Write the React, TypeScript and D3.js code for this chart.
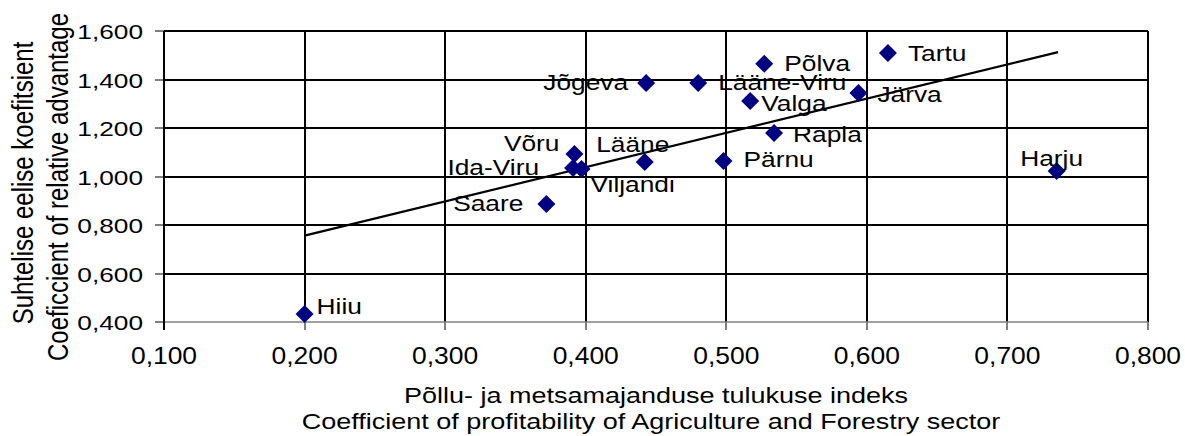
import React, { useRef, useEffect } from "react";
import * as d3 from "d3";

// county names and their two coefficients
const regions = ["Hiiu", "Saare", "Võru", "Ida-Viru", "Viljandi", "Lääne", "Pärnu", "Jõgeva", "Lääne-Viru", "Põlva", "Valga", "Rapla", "Järva", "Tartu", "Harju"];
const profitability = [0.200, 0.372, 0.392, 0.391, 0.397, 0.442, 0.498, 0.443, 0.480, 0.527, 0.517, 0.534, 0.594, 0.615, 0.735];
const advantage = [0.433, 0.887, 1.093, 1.035, 1.031, 1.060, 1.064, 1.386, 1.386, 1.465, 1.311, 1.179, 1.344, 1.509, 1.023];

// linear trendline end points
const trendX = [0.200, 0.736];
const trendY = [0.756, 1.513];

const xTicks = [0.1, 0.2, 0.3, 0.4, 0.5, 0.6, 0.7, 0.8];
const yTicks = [0.4, 0.6, 0.8, 1.0, 1.2, 1.4, 1.6];

const xTitle = ["Põllu- ja metsamajanduse tulukuse indeks", "Coefficient of profitability of Agriculture and Forestry sector"];
const yTitle = ["Suhtelise eelise koefitsient", "Coeficcient of relative advantage"];

// label placement per point: anchor, dx, dy (px)
const labelPlace = [
	["start", 12, 0], ["end", -23, 7], ["end", -15, -3], ["end", -34, 7], ["start", 9, 23],
	["middle", -12, -10], ["start", 20, 6], ["end", -18, 7], ["start", 20, 7], ["start", 20, 7],
	["start", 11, 10], ["start", 19, 9], ["start", 19, 9], ["start", 20, 8], ["middle", -5, -5]
];

const FONT = "'Liberation Sans', Arial, sans-serif";

const App = () => {
	const chartRef = useRef(null);

	useEffect(() => {
		const width = 1185;
		const height = 436;
		const margin = { top: 31, right: 37, bottom: 114, left: 164 };

		const svg = d3.select(chartRef.current);
		svg.selectAll("*").remove();
		svg.attr("width", width).attr("height", height);

		const xScale = d3.scaleLinear()
			.domain([0.1, 0.8])
			.range([margin.left, width - margin.right]);

		const yScale = d3.scaleLinear()
			.domain([0.4, 1.6])
			.range([height - margin.bottom, margin.top]);

		const fmt = (d) => d3.format(".3f")(d).replace(".", ",");

		const x0 = xScale(0.1), x1 = xScale(0.8);
		const y0 = yScale(0.4), y1 = yScale(1.6);

		// horizontal gridlines
		svg.append("g")
			.selectAll("line")
			.data(yTicks.filter(d => d > 0.4))
			.enter()
			.append("line")
			.attr("x1", x0)
			.attr("x2", x1)
			.attr("y1", d => Math.round(yScale(d)))
			.attr("y2", d => Math.round(yScale(d)))
			.attr("stroke", "#000")
			.attr("stroke-width", 2);

		// vertical gridlines
		svg.append("g")
			.selectAll("line")
			.data(xTicks.filter(d => d > 0.1))
			.enter()
			.append("line")
			.attr("x1", d => Math.round(xScale(d)))
			.attr("x2", d => Math.round(xScale(d)))
			.attr("y1", y1)
			.attr("y2", y0)
			.attr("stroke", "#000")
			.attr("stroke-width", 2);

		// y ticks
		svg.append("g")
			.selectAll("line")
			.data(yTicks)
			.enter()
			.append("line")
			.attr("x1", x0 - 9)
			.attr("x2", x0)
			.attr("y1", d => Math.round(yScale(d)))
			.attr("y2", d => Math.round(yScale(d)))
			.attr("stroke", "#555")
			.attr("stroke-width", 1.5);

		// x ticks
		svg.append("g")
			.selectAll("line")
			.data(xTicks)
			.enter()
			.append("line")
			.attr("x1", d => Math.round(xScale(d)))
			.attr("x2", d => Math.round(xScale(d)))
			.attr("y1", y0)
			.attr("y2", y0 + 8)
			.attr("stroke", "#555")
			.attr("stroke-width", 1.5);

		// bottom axis line (grey)
		svg.append("line")
			.attr("x1", x0 - 9)
			.attr("x2", x1)
			.attr("y1", y0)
			.attr("y2", y0)
			.attr("stroke", "#808080")
			.attr("stroke-width", 1.5);

		// left axis line
		svg.append("line")
			.attr("x1", x0)
			.attr("x2", x0)
			.attr("y1", y1)
			.attr("y2", y0 + 8)
			.attr("stroke", "#000")
			.attr("stroke-width", 2);

		// y tick labels
		svg.append("g")
			.selectAll("text")
			.data(yTicks)
			.enter()
			.append("text")
			.attr("transform", d => `translate(${x0 - 21},${yScale(d) + 8}) scale(1.25,1)`)
			.attr("text-anchor", "end")
			.attr("font-family", FONT)
			.attr("font-size", 21)
			.attr("fill", "#000")
			.text(d => fmt(d));

		// x tick labels
		svg.append("g")
			.selectAll("text")
			.data(xTicks)
			.enter()
			.append("text")
			.attr("transform", d => `translate(${xScale(d)},364) scale(1.15,1)`)
			.attr("text-anchor", "middle")
			.attr("font-family", FONT)
			.attr("font-size", 23)
			.attr("fill", "#000")
			.text(d => fmt(d));

		// trendline
		svg.append("line")
			.attr("x1", xScale(trendX[0]))
			.attr("y1", yScale(trendY[0]))
			.attr("x2", xScale(trendX[1]))
			.attr("y2", yScale(trendY[1]))
			.attr("stroke", "#000")
			.attr("stroke-width", 2.2);

		// diamonds
		const pts = regions.map((r, i) => ({ name: r, x: profitability[i], y: advantage[i], place: labelPlace[i] }));

		svg.append("g")
			.selectAll("path")
			.data(pts)
			.enter()
			.append("path")
			.attr("transform", d => `translate(${xScale(d.x)},${yScale(d.y)})`)
			.attr("d", "M0,-9L9,0L0,9L-9,0Z")
			.attr("fill", "#000080");

		// data labels
		svg.append("g")
			.selectAll("text")
			.data(pts)
			.enter()
			.append("text")
			.attr("transform", d => `translate(${xScale(d.x) + d.place[1]},${yScale(d.y) + d.place[2]}) scale(1.17,1)`)
			.attr("text-anchor", d => d.place[0])
			.attr("font-family", FONT)
			.attr("font-size", 22.5)
			.attr("fill", "#000")
			.text(d => d.name);

		// x axis title
		svg.append("text")
			.attr("transform", "translate(656,403) scale(1.2,1)")
			.attr("text-anchor", "middle")
			.attr("font-family", FONT)
			.attr("font-size", 22.5)
			.text(xTitle[0]);
		svg.append("text")
			.attr("transform", "translate(651,429) scale(1.2,1)")
			.attr("text-anchor", "middle")
			.attr("font-family", FONT)
			.attr("font-size", 22.5)
			.text(xTitle[1]);

		// y axis title
		svg.append("text")
			.attr("transform", "translate(33,183) scale(1.2,1) rotate(-90)")
			.attr("text-anchor", "middle")
			.attr("font-family", FONT)
			.attr("font-size", 24)
			.text(yTitle[0]);
		svg.append("text")
			.attr("transform", "translate(68,187) scale(1.2,1) rotate(-90)")
			.attr("text-anchor", "middle")
			.attr("font-family", FONT)
			.attr("font-size", 24)
			.text(yTitle[1]);
	}, []);

	return <svg ref={chartRef} style={{ position: "absolute", left: 0, top: 0, background: "#fff" }}></svg>;
};

export default App;
